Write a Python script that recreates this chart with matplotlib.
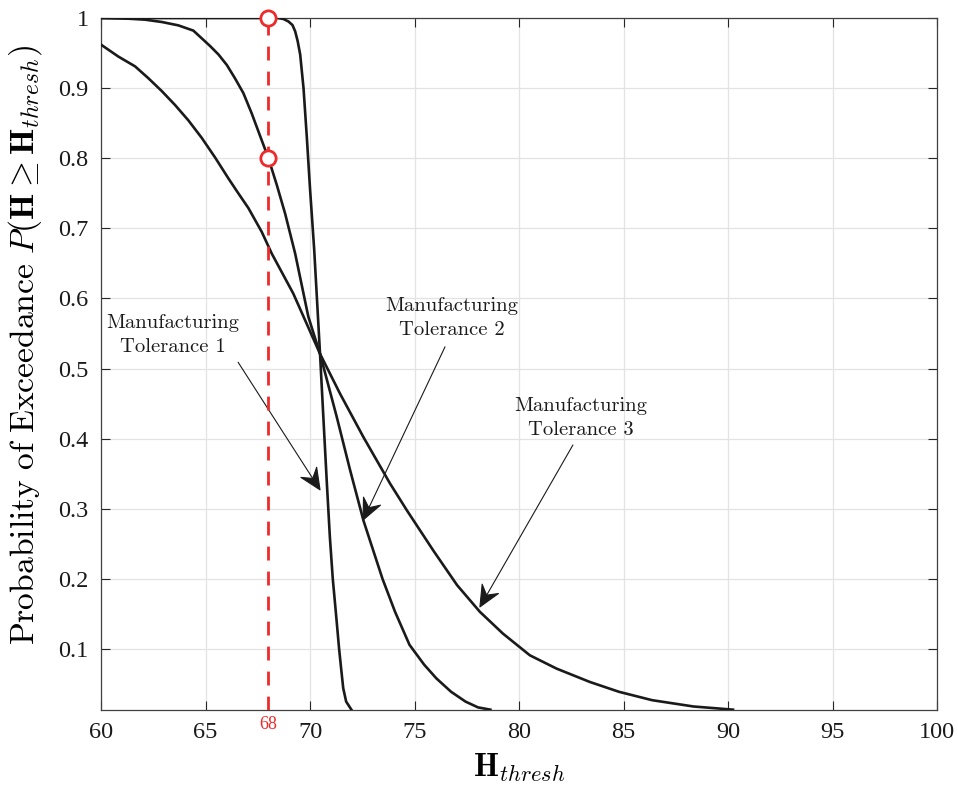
import numpy as np
import matplotlib
matplotlib.use('Agg')
import matplotlib.pyplot as plt
import matplotlib.transforms as mtransforms
from matplotlib.patches import ArrowStyle
from matplotlib.path import Path

plt.rcParams['mathtext.fontset'] = 'cm'
plt.rcParams['font.family'] = ['Liberation Serif', 'DejaVu Serif']

# exceedance curves for the three manufacturing tolerances
h_tol1 = [60, 64, 67, 68.46, 68.73, 68.97, 69.16, 69.29, 69.41, 69.53, 69.61, 69.69,
          69.85, 70.0, 70.2, 70.48, 70.64, 70.8, 70.95, 71.09, 71.25,
          71.39, 71.49, 71.59, 71.73, 71.98]
p_tol1 = [1, 1, 1, 1.0, 0.9986, 0.995, 0.99, 0.981, 0.967, 0.948, 0.924, 0.9,
          0.829, 0.757, 0.67, 0.521, 0.43, 0.34, 0.26, 0.2, 0.148,
          0.101, 0.072, 0.044, 0.025, 0.0135]

h_tol2 = [60, 61.31, 62.11, 62.91, 63.70, 64.42, 64.82, 65.22, 65.62, 66.02, 66.41,
          66.81, 67.21, 67.61, 68.01, 68.41, 68.81, 69.29, 69.92, 70.48, 71.28, 71.92,
          72.56, 73.47, 74.07, 74.76, 75.46, 76.05, 76.75, 77.44, 78.04, 78.63]
p_tol2 = [1, 0.999, 0.9976, 0.9943, 0.9895, 0.982, 0.971, 0.960, 0.948, 0.933, 0.914,
          0.893, 0.864, 0.832, 0.80, 0.762, 0.721, 0.664, 0.574, 0.521, 0.431, 0.355,
          0.283, 0.2, 0.153, 0.106, 0.0777, 0.058, 0.039, 0.025, 0.0167, 0.0135]

h_tol3 = [60, 60.83, 61.63, 62.27, 62.90, 63.54, 64.18, 64.82, 65.46, 66.10, 66.57,
          67.05, 67.69, 68.17, 69.2, 69.84, 70.48, 71.44, 72.56, 73.83, 74.63, 75.91,
          77.04, 78.13, 79.23, 80.52, 81.8, 83.39, 84.78, 86.37, 88.35, 90.24]
p_tol3 = [0.962, 0.945, 0.931, 0.914, 0.896, 0.876, 0.854, 0.829, 0.801, 0.771, 0.750,
          0.729, 0.695, 0.664, 0.607, 0.564, 0.521, 0.464, 0.402, 0.336, 0.298, 0.24,
          0.191, 0.153, 0.122, 0.091, 0.072, 0.053, 0.039, 0.027, 0.018, 0.0135]

h_thresh = 68
p_marks = [1.0, 0.8]

labels = ['Manufacturing\nTolerance 1', 'Manufacturing\nTolerance 2', 'Manufacturing\nTolerance 3']
label_xy = [(63.45, 0.548), (76.8, 0.572), (82.95, 0.429)]
arrow_tail = [(66.56, 0.509), (76.46, 0.531), (82.58, 0.391)]
arrow_tip = [(70.48, 0.327), (72.54, 0.284), (78.13, 0.16)]

xticks = [60, 65, 70, 75, 80, 85, 90, 95, 100]
yticks = [0.1, 0.2, 0.3, 0.4, 0.5, 0.6, 0.7, 0.8, 0.9, 1]
ytick_labels = ['0.1', '0.2', '0.3', '0.4', '0.5', '0.6', '0.7', '0.8', '0.9', '1']

red = '#ee2a2a'


# swept-back arrow head, like matlab's vback2
class VBack(ArrowStyle._Base):
    def __init__(self, head_length=1.3, head_width=0.6, notch=0.35):
        self.head_length = head_length
        self.head_width = head_width
        self.notch = notch
        super().__init__()

    def transmute(self, path, mutation_size, linewidth):
        p0 = path.vertices[0]
        p1 = path.vertices[-1]
        d = (p1 - p0) / np.hypot(*(p1 - p0))
        n = np.array([-d[1], d[0]])
        L = self.head_length * mutation_size
        W = self.head_width * mutation_size
        base = p1 - d * L
        mid = p1 - d * L * (1 - self.notch)
        line = Path([p0, mid])
        head = Path([p1, base + n * W, mid, base - n * W, p1],
                    [Path.MOVETO, Path.LINETO, Path.LINETO, Path.LINETO, Path.CLOSEPOLY])
        return [line, head], [False, True]


fig = plt.figure(figsize=(9.58, 7.91), dpi=100)
ax = fig.add_axes([101 / 958, 81 / 791, 836 / 958, 692 / 791])

ax.plot(h_tol1, p_tol1, color='#1a1a1a', lw=1.9, zorder=3)
ax.plot(h_tol2, p_tol2, color='#1a1a1a', lw=1.9, zorder=3)
ax.plot(h_tol3, p_tol3, color='#1a1a1a', lw=1.9, zorder=3)

ax.axvline(h_thresh, color=red, lw=2, dashes=(5, 4), zorder=4)
ax.plot([h_thresh] * len(p_marks), p_marks, 'o', color=red, mfc='white',
        mew=2, ms=11, zorder=5, clip_on=False)

for lab, xy, tail, tip in zip(labels, label_xy, arrow_tail, arrow_tip):
    ax.text(xy[0], xy[1], lab, family='cmr10', fontsize=14.8, ha='center',
            va='center', multialignment='center', linespacing=1.45, color='#1a1a1a')
    ax.annotate('', xy=tip, xytext=tail,
                arrowprops=dict(arrowstyle=VBack(head_length=1.0, head_width=0.45, notch=0.35),
                                mutation_scale=15, color='#1a1a1a', lw=0.8,
                                shrinkA=0, shrinkB=0))

ax.set_xlim(60, 100)
ax.set_ylim(0.013, 1)
ax.set_xticks(xticks)
ax.set_yticks(yticks)
ax.set_yticklabels(ytick_labels)
ax.tick_params(direction='in', length=6.5, width=0.8, labelsize=17.5, pad=9,
               top=True, right=True, colors='#262626', labelcolor='#1a1a1a')
ax.grid(True, color='#e3e3e3', lw=0.9)
ax.set_axisbelow(True)
for sp in ax.spines.values():
    sp.set_color('#404040')
    sp.set_linewidth(0.9)

trans = mtransforms.blended_transform_factory(ax.transData, ax.transAxes)
ax.text(h_thresh, -0.008, str(h_thresh), transform=trans, color=red,
        fontsize=13, ha='center', va='top')

ax.set_xlabel(r'$\mathbf{H}_{thresh}$', fontsize=23, labelpad=6)
ax.set_ylabel(r'$\mathrm{Probability\ of\ Exceedance}\ P(\mathbf{H} \geq \mathbf{H}_{thresh})$',
              fontsize=24.2)
ax.yaxis.set_label_coords(-0.068, 0.527)

fig.savefig('out.png', dpi=100)
